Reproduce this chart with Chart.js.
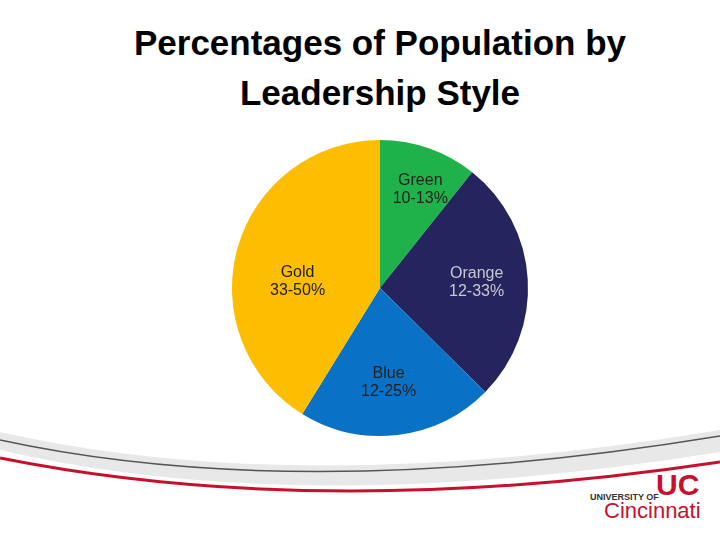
<!DOCTYPE html>
<html><head><meta charset="utf-8">
<script src="https://cdn.jsdelivr.net/npm/chart.js@4"></script>
<style>
body{margin:0;width:720px;height:540px;background:#fff;position:relative;overflow:hidden;font-family:"Liberation Sans",Arial,sans-serif}
#title{position:absolute;left:0;width:760px;top:18px;text-align:center;font-weight:bold;font-size:35px;line-height:50px;color:#000}
#wrap{position:absolute;left:226px;top:134px;width:308px;height:308px}
#uc1{position:absolute;left:590px;top:492px;font-size:9px;font-weight:bold;color:#333}
#uc2{position:absolute;left:604px;top:498px;font-size:22px;color:#c8102e}
#uc3{position:absolute;left:656px;top:468px;font-size:30px;font-weight:bold;color:#c8102e}
</style></head><body>
<svg width="720" height="540" style="position:absolute;left:0;top:0">
<path d="M0 432 Q300 500 720 430 L720 452 Q300 520 0 450Z" fill="#e8e8e8"/>
<path d="M0 440 Q300 505 720 436" stroke="#555" stroke-width="1.5" fill="none"/>
<path d="M0 455 Q320 520 720 460 L720 540 L0 540Z" fill="#fff"/>
<path d="M0 458 Q320 522 720 462" stroke="#c8102e" stroke-width="3" fill="none"/>
</svg>
<div id="title">Percentages of Population by<br>Leadership Style</div>
<div id="wrap"><canvas id="c"></canvas></div>
<div id="uc3">UC</div><div id="uc1">UNIVERSITY OF</div><div id="uc2">Cincinnati</div>
<script>
const categories=["Green","Orange","Blue","Gold"];
const rangeLabels=["10-13%","12-33%","12-25%","33-50%"];
const values=[10.7,26.7,21.4,41.2];
const colors=["#1fb24a","#25245f","#0a72c6","#fdbd00"];
const textColors=["#222","#c8c8d0","#222","#222"];
const nudge=[[11,-15],[8,0],[-2,6],[3,18]];
const labelPlugin={id:"lbl",afterDatasetsDraw(ch){const ctx=ch.ctx;ch.getDatasetMeta(0).data.forEach((a,i)=>{const m=(a.startAngle+a.endAngle)/2;const r=a.outerRadius*0.6;const x=a.x+Math.cos(m)*r+nudge[i][0],y=a.y+Math.sin(m)*r+nudge[i][1];ctx.save();ctx.fillStyle=textColors[i];ctx.font="16px 'Liberation Sans',Arial";ctx.textAlign="center";ctx.textBaseline="middle";ctx.fillText(categories[i],x,y-9);ctx.fillText(rangeLabels[i],x,y+9);ctx.restore();});}};
new Chart(document.getElementById("c"),{type:"pie",data:{labels:categories,datasets:[{data:values,backgroundColor:colors,borderWidth:0}]},options:{responsive:true,maintainAspectRatio:false,animation:false,plugins:{legend:{display:false},tooltip:{enabled:false}},layout:{padding:6}},plugins:[labelPlugin]});
</script></body></html>
